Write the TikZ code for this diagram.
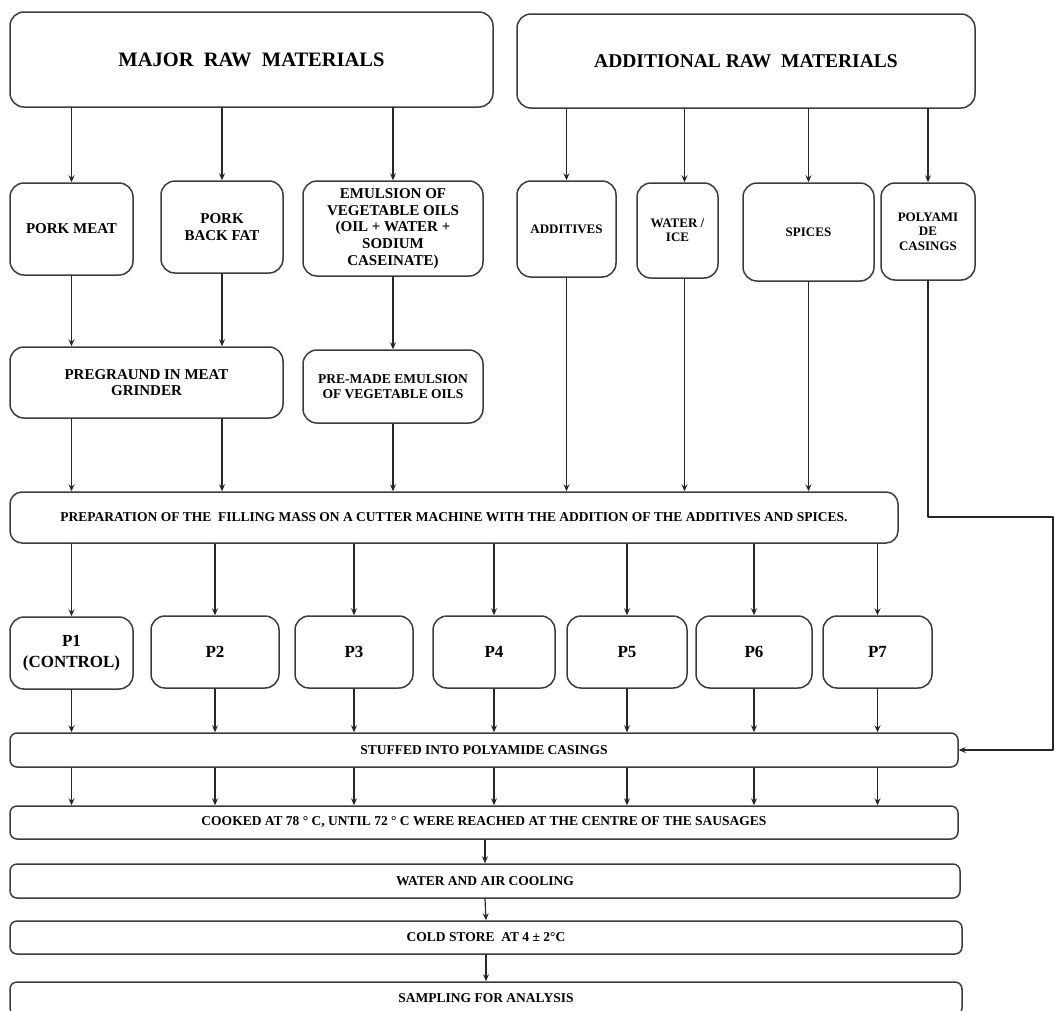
\documentclass[tikz,border=0pt]{standalone}
\usepackage{fontspec}
\setmainfont{Liberation Serif}
\usetikzlibrary{arrows.meta}
\definecolor{boxline}{HTML}{3C3C3C}
\tikzset{
  box/.style={draw=boxline,line width=1.5pt,rounded corners=14pt,align=center,inner sep=2pt,
    font=\fontsize{15}{16.7}\selectfont\bfseries},
  smallbox/.style={box,font=\fontsize{13}{14.5}\selectfont\bfseries},
  pbox/.style={box,font=\fontsize{17}{21}\selectfont\bfseries,minimum height=72pt},
  strip/.style={box,rounded corners=7pt,font=\fontsize{13.5}{15}\selectfont\bfseries},
  head/.style={box,font=\fontsize{19.5}{22}\selectfont\bfseries},
  flow/.style={draw=black!85,line width=1.2pt,-{Stealth[length=7pt,width=6pt,inset=2.5pt]}}
}
\begin{document}
\begin{tikzpicture}[x=1pt,y=-1pt,line cap=round,line join=round]
  \useasboundingbox (0,0) rectangle (1055,1010);
  \node[head,font=\fontsize{20.5}{22}\selectfont\bfseries,minimum width=483pt,minimum height=95pt] (major) at (251.5,59.5) {MAJOR\ \ RAW\ \ MATERIALS};
  \node[head,minimum width=458pt,minimum height=94pt] (addl) at (746,61) {ADDITIONAL RAW\ \ MATERIALS};
  \node[box,minimum width=123pt,minimum height=92pt] (pm) at (71.5,229) {PORK MEAT};
  \node[box,minimum width=122pt,minimum height=92pt] (bf) at (222,227) {PORK\\BACK FAT};
  \node[box,minimum width=180pt,minimum height=95pt] (emul) at (393,228.5) {EMULSION OF\\VEGETABLE OILS\\(OIL + WATER +\\SODIUM\\CASEINATE)};
  \node[smallbox,minimum width=99pt,minimum height=96pt] (add) at (566.5,229) {ADDITIVES};
  \node[smallbox,minimum width=81pt,minimum height=95pt] (wat) at (677.5,230.5) {WATER /\\ICE};
  \node[smallbox,minimum width=131pt,minimum height=98pt] (spi) at (808.5,232) {SPICES};
  \node[smallbox,minimum width=94pt,minimum height=97pt] (poly) at (928,231.5) {POLYAMI\\DE\\CASINGS};
  \node[box,minimum width=273pt,minimum height=71pt] (preg) at (146.5,382.5) {PREGRAUND IN MEAT\\GRINDER};
  \node[box,font=\fontsize{13.5}{15}\selectfont\bfseries,minimum width=180pt,minimum height=73pt] (prem) at (393,386.5) {PRE-MADE EMULSION\\OF VEGETABLE OILS};
  \node[strip,rounded corners=12pt,minimum width=888pt,minimum height=51pt] (prep) at (454,517.5) {PREPARATION OF THE\ \ FILLING MASS ON A CUTTER MACHINE WITH THE ADDITION OF THE ADDITIVES AND SPICES.};
  \node[pbox,minimum width=123pt] (p1) at (71.5,653) {P1\\(CONTROL)};
  \foreach \n/\cx/\w in {2/215/128,3/354/118,4/494/122,5/627/120,6/754/116,7/877.5/109}
    \node[pbox,minimum width=\w pt] (p\n) at (\cx,652) {P\n};
  \node[strip,minimum width=948pt,minimum height=34pt] (stuf) at (484,750) {STUFFED INTO POLYAMIDE CASINGS};
  \node[strip,minimum width=948pt,minimum height=33pt] (cook) at (484,822.5) {COOKED AT 78 ° C, UNTIL 72 ° C WERE REACHED AT THE CENTRE OF THE SAUSAGES};
  \node[strip,minimum width=950pt,minimum height=34pt] (cool) at (485,881) {WATER AND AIR COOLING};
  \node[strip,minimum width=952pt,minimum height=33pt] (cold) at (486,937.5) {COLD STORE\ \ AT 4 ± 2°C};
  \node[strip,minimum width=952pt,minimum height=33pt] (samp) at (486,998.5) {SAMPLING FOR ANALYSIS};
  \coordinate (turn) at (1053,517);
  \coordinate (wcol) at ([xshift=7pt]wat.north);
  \foreach \b in {pm,bf,emul} \draw[flow] (major.south -| \b.north) -- (\b.north);
  \foreach \b in {add,spi,poly} \draw[flow] (addl.south -| \b.north) -- (\b.north);
  \draw[flow] (addl.south -| wcol) -- (wcol);
  \draw[flow] (pm.south) -- (pm.south |- preg.north);
  \draw[flow] (bf.south) -- (bf.south |- preg.north);
  \draw[flow] (emul.south) -- (prem.north);
  \draw[flow] (pm.south |- preg.south) -- (pm.south |- prep.north);
  \draw[flow] (bf.south |- preg.south) -- (bf.south |- prep.north);
  \draw[flow] (prem.south) -- (prem.south |- prep.north);
  \foreach \b in {add,spi} \draw[flow] (\b.south) -- (\b.south |- prep.north);
  \draw[flow] (wat.south -| wcol) -- (wcol |- prep.north);
  \draw[flow] (poly.south) -- (poly.south |- turn) -- (turn) -- (turn |- stuf.east) -- (stuf.east);
  \foreach \n in {1,...,7} {
    \draw[flow] (prep.south -| p\n.north) -- (p\n.north);
    \draw[flow] (p\n.south) -- (p\n.south |- stuf.north);
    \draw[flow] (stuf.south -| p\n.south) -- (p\n.south |- cook.north);
  }
  \draw[flow] (cook.south -| cool.north) -- (cool.north);
  \draw[flow] (cool.south) -- (cold.north);
  \draw[flow] (cold.south) -- (samp.north);
\end{tikzpicture}
\end{document}
